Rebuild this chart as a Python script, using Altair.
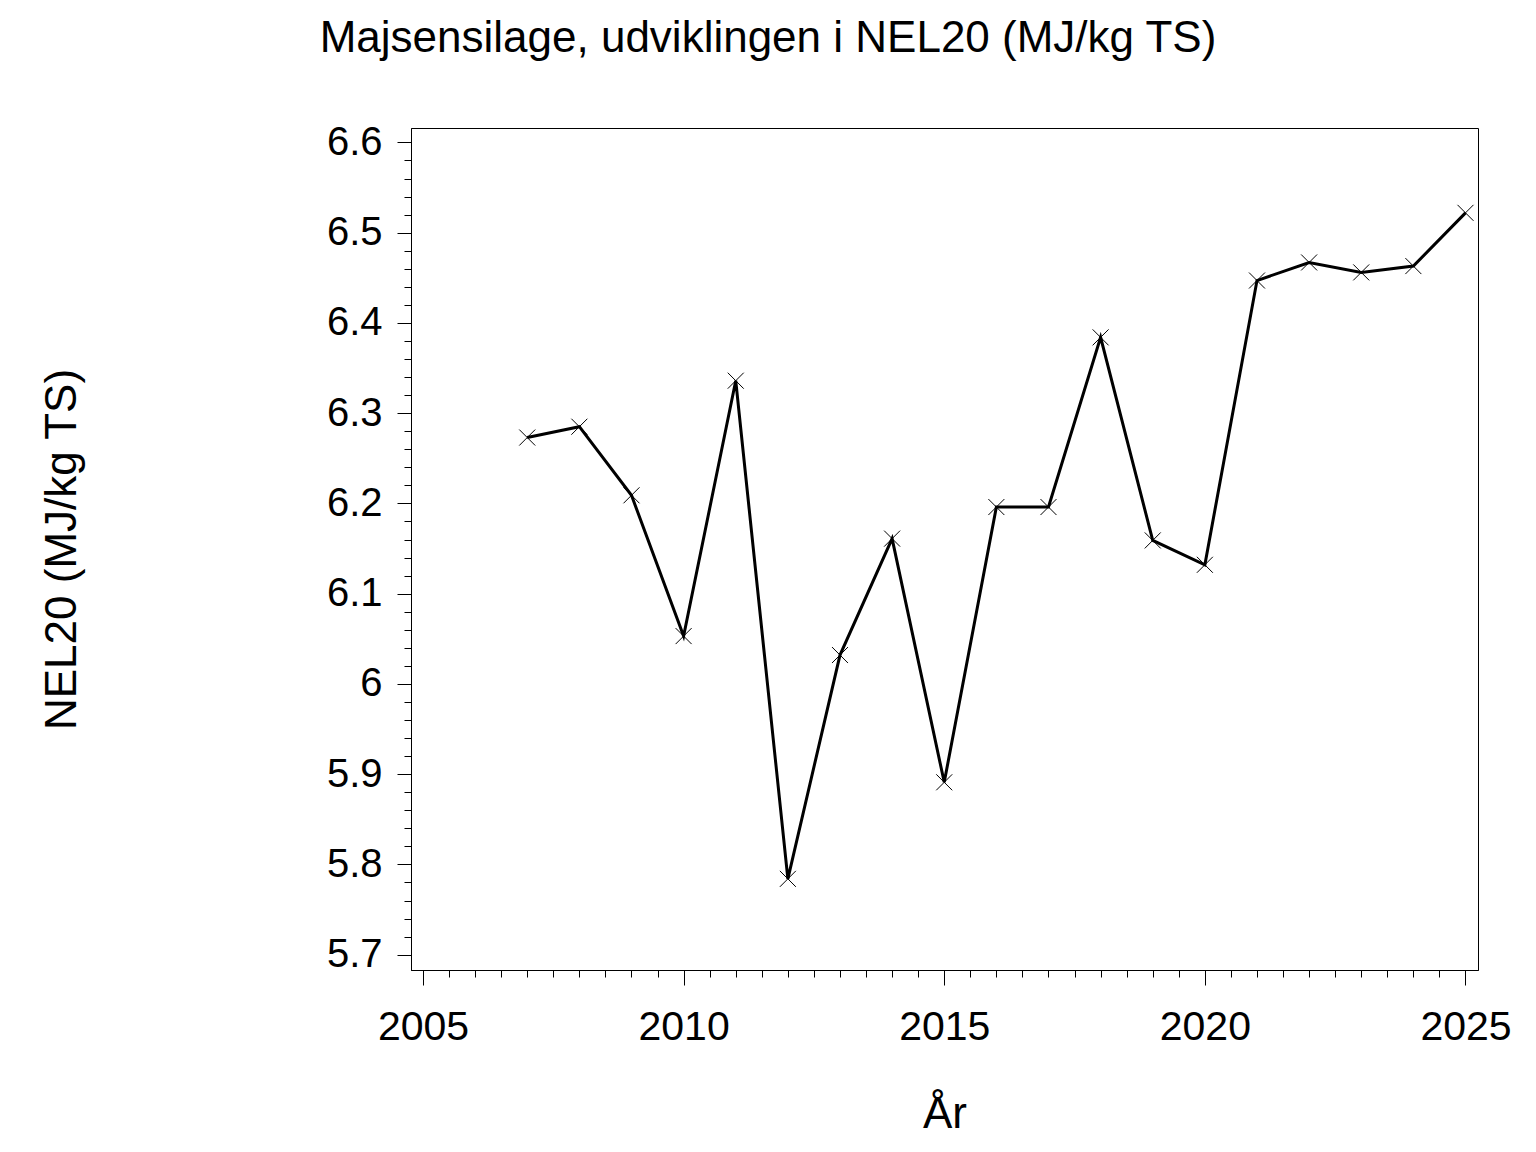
import altair as alt
import pandas as pd

# Data
years = [2007, 2008, 2009, 2010, 2011, 2012, 2013, 2014, 2015, 2016,
         2017, 2018, 2019, 2020, 2021, 2022, 2023, 2024, 2025]
nel20 = [6.273, 6.285, 6.209, 6.053, 6.336, 5.784, 6.032, 6.161, 5.891, 6.196,
         6.196, 6.384, 6.159, 6.132, 6.447, 6.467, 6.456, 6.463, 6.522]

x_major = [2005, 2010, 2015, 2020, 2025]
x_minor = [2005 + 0.5 * i for i in range(41)]
y_major = [5.7, 5.8, 5.9, 6.0, 6.1, 6.2, 6.3, 6.4, 6.5, 6.6]
y_minor = [round(5.7 + 0.02 * i, 2) for i in range(46)]

title_text = "Majsensilage, udviklingen i NEL20 (MJ/kg TS)"
x_title = "År"
y_title = "NEL20 (MJ/kg TS)"

FONT = "Liberation Sans"
W, H = 1067, 842

df = pd.DataFrame({"year": years, "nel": nel20})

xscale = alt.Scale(domain=[2004.77, 2025.24], nice=False, zero=False)
yscale = alt.Scale(domain=[5.683, 6.616], nice=False, zero=False)

base = alt.Chart(df)

line = base.mark_line(color="black", strokeWidth=3).encode(
    x=alt.X("year:Q", scale=xscale,
            axis=alt.Axis(values=x_major, format="d", title=x_title, orient="bottom",
                          grid=False, tickSize=15, tickColor="black", domainColor="black",
                          labelFont=FONT, labelFontSize=41, labelColor="black",
                          labelPadding=22, labelBaseline="top", labelFlush=False,
                          titleFont=FONT, titleFontSize=44, titleFontWeight="normal",
                          titleColor="black", titleBaseline="alphabetic",
                          titleAlign="center", titleX=W / 2, titleY=157)),
    y=alt.Y("nel:Q", scale=yscale,
            axis=alt.Axis(values=y_major, format="~g", title=y_title, orient="left",
                          grid=False, tickSize=14, tickColor="black", domainColor="black",
                          labelFont=FONT, labelFontSize=40, labelColor="black",
                          labelPadding=15, labelFlush=False,
                          titleFont=FONT, titleFontSize=44, titleFontWeight="normal",
                          titleColor="black", titleAngle=-90, titleBaseline="alphabetic",
                          titleAlign="center", titleX=-336, titleY=H / 2)),
)

points = base.mark_point(
    shape="M-1,-1L1,1M-1,1L1,-1", size=256, color="black",
    strokeWidth=1, filled=False, opacity=1
).encode(
    x=alt.X("year:Q", scale=xscale, axis=None),
    y=alt.Y("nel:Q", scale=yscale, axis=None),
)

minor = base.mark_point(opacity=0).encode(
    x=alt.X("year:Q", scale=xscale,
            axis=alt.Axis(values=x_minor, labels=False, tickSize=7, domain=False,
                          title=None, orient="bottom", grid=False, tickColor="black")),
    y=alt.Y("nel:Q", scale=yscale,
            axis=alt.Axis(values=y_minor, labels=False, tickSize=7, domain=False,
                          title=None, orient="left", grid=False, tickColor="black")),
)

title = alt.Chart(pd.DataFrame({"t": [title_text]})).mark_text(
    font=FONT, fontSize=44, color="black", align="center", baseline="alphabetic"
).encode(
    text="t:N",
    x=alt.value(768 - 411),
    y=alt.value(52 - 128),
)

chart = alt.layer(line, points, minor, title).resolve_axis(
    x="independent", y="independent"
).properties(
    width=W, height=H,
    autosize=alt.AutoSizeParams(type="none"),
    padding={"left": 403, "top": 120, "right": 42, "bottom": 166},
    background="white",
).configure_view(stroke="black", strokeWidth=1)

chart.save("out.html", embed_options={"renderer": "svg", "actions": False})
